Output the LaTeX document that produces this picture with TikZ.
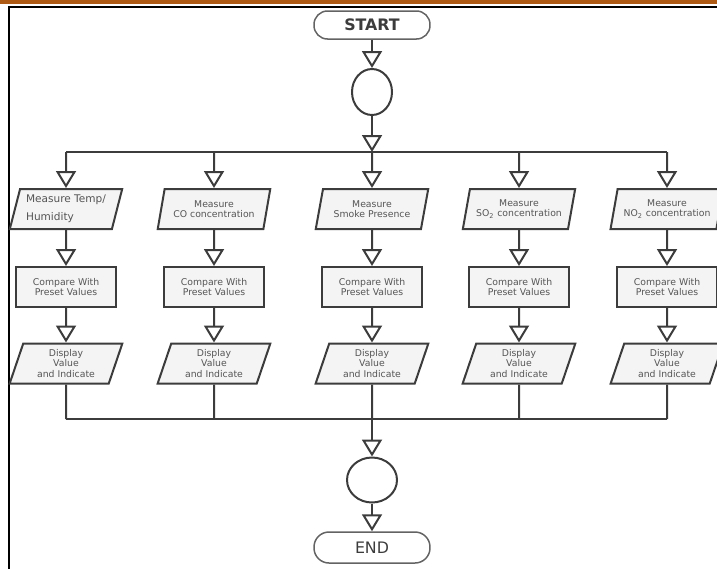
\documentclass[tikz,border=0pt]{standalone}
\usepackage{fontspec}
\setmainfont{DejaVu Sans}
\usetikzlibrary{shapes.geometric,arrows.meta}
\definecolor{ln}{HTML}{3C3C3C}
\definecolor{boxfill}{HTML}{F4F4F4}
\definecolor{txt}{HTML}{555555}
\definecolor{topbar}{HTML}{AE5A14}
\begin{document}
\begin{tikzpicture}[x=0.02cm,y=-0.02cm,
  box/.style={draw=ln, line width=0.04cm, fill=boxfill, minimum width=2cm, minimum height=0.8cm, inner sep=0pt, align=center, text=txt, font=\fontsize{5.3}{6}\selectfont},
  para/.style={box, trapezium, trapezium left angle=72, trapezium right angle=108, trapezium stretches=true, minimum width=2.26cm},
  term/.style={draw=ln!80, line width=0.03cm, rounded corners=0.27cm, minimum width=2.32cm, minimum height=0.56cm, inner sep=0pt, text=ln, font=\fontsize{9}{10}\selectfont},
  joint/.style={draw=ln, line width=0.04cm, ellipse, inner sep=0pt},
  flow/.style={draw=ln, line width=0.04cm, -{Triangle[width=0.4cm,length=0.34cm,fill=white]}},
  wire/.style={draw=ln, line width=0.04cm}]
\useasboundingbox (0,0) rectangle (717,569);
% page frame
\fill[topbar] (0,0) rectangle (717,4);
\draw[black, line width=0.04cm] (8,7) -- (717,7);
\draw[black, line width=0.04cm] (9,7) -- (9,569);

\node[term, font=\fontsize{9}{10}\selectfont\bfseries] (start) at (372,25) {START};
\node[joint, minimum width=0.8cm, minimum height=0.92cm] (c1) at (372,92) {};

\coordinate (bus) at (372,152);
\foreach \i/\x in {1/66,2/214,3/372,4/519,5/667}{
  \coordinate (b\i) at (\x,152);
  \coordinate (d\i) at (\x,419);
}

\node[para, align=left, font=\fontsize{6}{10}\selectfont] (m1) at (66,209) {Measure Temp/\\ Humidity};
\node[para] (m2) at (214,209) {Measure\\CO concentration};
\node[para] (m3) at (372,209) {Measure\\Smoke Presence};
\node[para] (m4) at (519,209) {Measure\\SO\textsubscript{2} concentration};
\node[para] (m5) at (667,209) {Measure\\NO\textsubscript{2} concentration};

\foreach \i/\x in {1/66,2/214,3/372,4/519,5/667}{
  \node[box] (p\i) at (\x,287) {Compare With\\Preset Values};
  \node[para] (s\i) at (\x,363.5) {Display\\Value\\and Indicate};
}

\coordinate (bot) at (372,419);
\node[joint, minimum width=1cm, minimum height=0.9cm] (c2) at (372,480) {};
\node[term, minimum width=2.32cm, minimum height=0.62cm, rounded corners=0.3cm] (end) at (372,547.5) {END};

\draw[flow] (start) -- (c1);
\draw[flow] (c1) -- (bus);
\draw[wire] (b1) -- (b5);
\foreach \i in {1,...,5}{
  \draw[flow] (b\i) -- (m\i);
  \draw[flow] (m\i) -- (p\i);
  \draw[flow] (p\i) -- (s\i);
  \draw[wire] (s\i) -- (d\i);
}
\draw[wire] (d1) -- (d5);
\draw[flow] (bot) -- (c2);
\draw[flow] (c2) -- (end);
\end{tikzpicture}
\end{document}
